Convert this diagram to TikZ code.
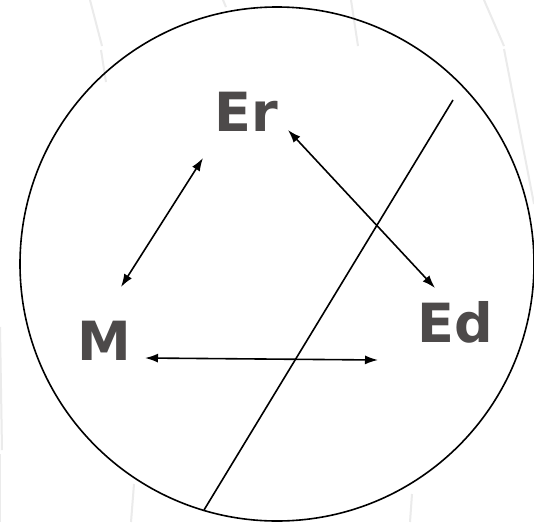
\documentclass[tikz,border=0pt]{standalone}
\usepackage{fontspec}
\setmainfont{DejaVu Sans}
\usetikzlibrary{arrows.meta}
\definecolor{labelgray}{HTML}{4D4A4A}
\definecolor{faint}{HTML}{EBEBEB}
\tikzset{
  lbl/.style={font=\fontsize{54}{54}\selectfont\bfseries, text=labelgray, inner sep=0pt, anchor=base},
  dblarrow/.style={line width=1.6pt, {Latex[length=13pt,width=9pt]}-{Latex[length=13pt,width=9pt]}},
  rim/.style={line width=1.6pt},
  cutline/.style={line width=1.6pt},
  bgline/.style={line width=2pt, draw=faint}
}
\begin{document}
\begin{tikzpicture}[x=1pt,y=-1pt]
\useasboundingbox (0,0) rectangle (534,522);
\fill[white] (0,0) rectangle (534,522);
% faint background lines
\draw[bgline] (90,0) -- (102,46);
\draw[bgline] (101,50) -- (106,82);
\draw[bgline] (223,0) -- (226,7);
\draw[bgline] (351,0) -- (358,46);
\draw[bgline] (484,0) -- (504,46);
\draw[bgline] (504,49) -- (534,204);
\draw[bgline] (0,327) -- (2,450);
\draw[bgline] (0,454) -- (0,522);
\draw[bgline] (134,484) -- (131,522);
\draw[bgline] (412,494) -- (410,522);
% circle
\node[draw, rim, circle, minimum size=514pt, inner sep=0pt] (rimc) at (277,264) {};
% labels
\node[lbl] (Er) at (246,131) {Er};
\node[lbl] (M) at (104,360) {M};
\node[lbl] (Ed) at (455,342) {Ed};
% connector ends
\coordinate (erM) at (203,158);
\coordinate (mEr) at (121,287);
\coordinate (erEd) at (288,130);
\coordinate (edEr) at (435,288);
\coordinate (mEd) at (145,358);
\coordinate (edM) at (378,360);
\coordinate (cutTop) at (453,100);
\coordinate (cutBot) at (204,510);
% connectors
\draw[dblarrow] (erM) -- (mEr);
\draw[dblarrow] (erEd) -- (edEr);
\draw[dblarrow] (mEd) -- (edM);
\draw[cutline] (cutTop) -- (cutBot);
\end{tikzpicture}
\end{document}
